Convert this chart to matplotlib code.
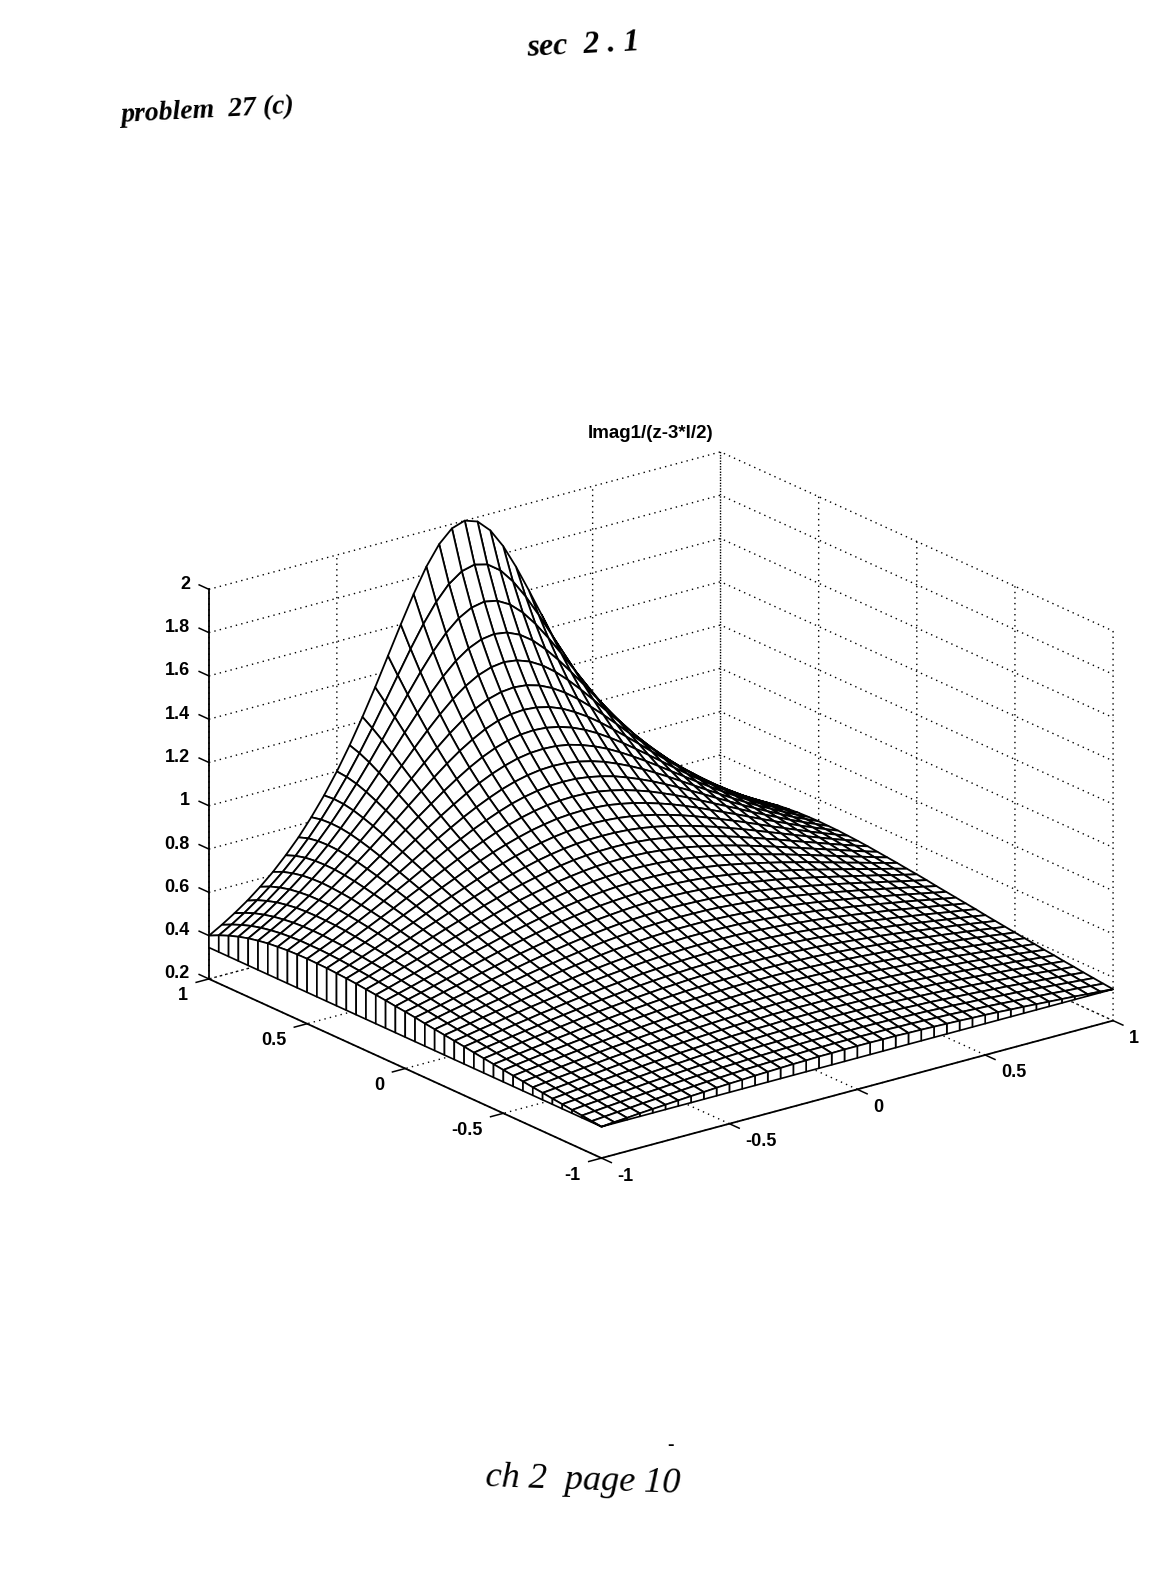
import numpy as np
import matplotlib
matplotlib.use('Agg')
import matplotlib.pyplot as plt
from matplotlib.transforms import offset_copy
from mpl_toolkits.mplot3d import proj3d

plt.rcParams['font.family'] = ['Liberation Sans', 'DejaVu Sans']
plt.rcParams['font.weight'] = 'bold'

W, H = 1171, 1582

# grid of the mesh, surface is symmetric in x so only x >= 0 is listed
x_half = [0, .05, .1, .15, .2, .25, .3, .35, .4, .45, .5, .55, .6, .65, .7, .75, .8, .85, .9, .95, 1]
y_vals = [-1, -.95, -.9, -.85, -.8, -.75, -.7, -.65, -.6, -.55, -.5, -.45, -.4, -.35, -.3, -.25, -.2, -.15, -.1, -.05,
          0, .05, .1, .15, .2, .25, .3, .35, .4, .45, .5, .55, .6, .65, .7, .75, .8, .85, .9, .95, 1]
# one row per y value, one column per x_half value
z_half = [
    [.400,.400,.399,.399,.397,.396,.394,.392,.390,.387,.385,.382,.378,.375,.371,.367,.363,.359,.354,.350,.345],
    [.408,.408,.407,.407,.405,.404,.402,.400,.398,.395,.392,.389,.385,.381,.377,.373,.369,.364,.360,.355,.350],
    [.417,.416,.416,.415,.414,.412,.410,.408,.405,.403,.399,.396,.392,.388,.384,.380,.375,.370,.365,.360,.355],
    [.426,.425,.425,.424,.422,.421,.419,.416,.414,.410,.407,.403,.399,.395,.391,.386,.381,.376,.371,.366,.360],
    [.435,.435,.434,.433,.432,.430,.428,.425,.422,.419,.415,.411,.407,.403,.398,.393,.388,.383,.377,.371,.366],
    [.444,.444,.444,.442,.441,.439,.437,.434,.431,.427,.424,.419,.415,.410,.405,.400,.395,.389,.383,.377,.371],
    [.455,.454,.454,.452,.451,.449,.446,.443,.440,.436,.432,.428,.423,.418,.413,.407,.401,.396,.389,.383,.377],
    [.465,.465,.464,.463,.461,.459,.456,.453,.450,.446,.441,.437,.432,.426,.421,.415,.409,.402,.396,.389,.382],
    [.476,.476,.475,.474,.472,.470,.467,.463,.460,.455,.451,.446,.440,.435,.429,.422,.416,.409,.402,.395,.388],
    [.488,.488,.487,.485,.483,.481,.478,.474,.470,.465,.460,.455,.449,.443,.437,.430,.423,.416,.409,.402,.394],
    [.500,.500,.499,.497,.495,.492,.489,.485,.481,.476,.471,.465,.459,.452,.445,.438,.431,.424,.416,.408,.400],
    [.513,.512,.511,.510,.507,.505,.501,.497,.492,.487,.481,.475,.468,.462,.454,.447,.439,.431,.423,.414,.406],
    [.526,.526,.525,.523,.521,.517,.514,.509,.504,.498,.492,.486,.479,.471,.463,.455,.447,.439,.430,.421,.412],
    [.541,.540,.539,.537,.534,.531,.527,.522,.516,.510,.504,.497,.489,.481,.473,.464,.455,.446,.437,.428,.418],
    [.556,.555,.554,.552,.549,.545,.541,.535,.529,.523,.516,.508,.500,.491,.483,.473,.464,.454,.444,.435,.425],
    [.571,.571,.570,.567,.564,.560,.555,.549,.543,.536,.528,.520,.511,.502,.493,.483,.473,.462,.452,.441,.431],
    [.588,.588,.586,.584,.580,.576,.570,.564,.557,.550,.541,.532,.523,.513,.503,.492,.482,.471,.459,.448,.437],
    [.606,.606,.604,.601,.597,.592,.587,.580,.572,.564,.555,.545,.535,.525,.514,.502,.491,.479,.467,.455,.443],
    [.625,.624,.623,.620,.615,.610,.604,.596,.588,.579,.569,.559,.548,.536,.525,.512,.500,.487,.475,.462,.449],
    [.645,.644,.642,.639,.635,.629,.622,.614,.605,.595,.584,.573,.561,.549,.536,.523,.509,.496,.482,.469,.456],
    [.667,.666,.664,.660,.655,.649,.641,.632,.622,.612,.600,.588,.575,.561,.547,.533,.519,.505,.490,.476,.462],
    [.690,.689,.686,.682,.677,.670,.661,.652,.641,.629,.616,.603,.589,.574,.559,.544,.529,.513,.498,.483,.467],
    [.714,.713,.711,.706,.700,.692,.683,.672,.660,.647,.633,.619,.603,.588,.571,.555,.538,.522,.505,.489,.473],
    [.741,.740,.737,.732,.725,.716,.706,.694,.681,.667,.651,.635,.619,.601,.584,.566,.548,.530,.513,.495,.478],
    [.769,.768,.765,.759,.751,.742,.730,.717,.703,.687,.670,.652,.634,.615,.596,.577,.558,.539,.520,.501,.483],
    [.800,.799,.795,.789,.780,.769,.756,.742,.726,.708,.690,.670,.650,.630,.609,.588,.568,.547,.527,.507,.488],
    [.833,.832,.828,.821,.811,.799,.784,.768,.750,.731,.710,.689,.667,.644,.622,.599,.577,.555,.533,.512,.492],
    [.870,.868,.863,.855,.844,.830,.814,.796,.776,.754,.731,.708,.684,.659,.634,.610,.586,.562,.539,.517,.495],
    [.909,.907,.902,.892,.880,.864,.846,.826,.803,.779,.753,.727,.701,.674,.647,.621,.595,.569,.545,.521,.498],
    [.952,.950,.944,.933,.919,.901,.881,.857,.832,.805,.776,.747,.718,.689,.659,.631,.603,.575,.549,.524,.499],
    [1.000,.998,.990,.978,.962,.941,.917,.891,.862,.832,.800,.768,.735,.703,.671,.640,.610,.581,.552,.526,.500],
    [1.053,1.050,1.041,1.027,1.008,.984,.957,.927,.894,.860,.824,.788,.752,.717,.682,.648,.616,.585,.555,.526,.499],
    [1.111,1.108,1.098,1.081,1.059,1.032,1.000,.965,.928,.889,.849,.809,.769,.730,.692,.656,.621,.587,.556,.526,.497],
    [1.176,1.172,1.160,1.141,1.115,1.083,1.046,1.006,.963,.919,.874,.829,.785,.742,.701,.661,.624,.588,.555,.523,.493],
    [1.250,1.245,1.231,1.208,1.176,1.139,1.096,1.049,1.000,.950,.899,.849,.800,.753,.708,.665,.625,.587,.552,.519,.488],
    [1.333,1.327,1.310,1.282,1.245,1.200,1.149,1.095,1.038,.980,.923,.867,.813,.761,.713,.667,.624,.584,.546,.512,.480],
    [1.429,1.421,1.400,1.366,1.321,1.267,1.207,1.143,1.077,1.011,.946,.883,.824,.767,.714,.665,.619,.577,.538,.503,.470],
    [1.538,1.529,1.503,1.461,1.405,1.340,1.268,1.193,1.116,1.040,.967,.897,.831,.769,.712,.660,.612,.568,.527,.491,.457],
    [1.667,1.655,1.622,1.569,1.500,1.420,1.333,1.244,1.154,1.067,.984,.906,.833,.767,.706,.650,.600,.554,.513,.475,.441],
    [1.818,1.803,1.760,1.692,1.606,1.507,1.401,1.294,1.189,1.089,.995,.909,.830,.759,.694,.636,.584,.537,.494,.456,.422],
    [2.000,1.980,1.923,1.835,1.724,1.600,1.471,1.342,1.220,1.105,1.000,.905,.820,.743,.676,.615,.562,.514,.472,.434,.400],
]
z_floor = .345

xy_ticks = [-1, -.5, 0, .5, 1]
xy_labels = ['-1', '-0.5', '0', '0.5', '1']
z_ticks = [.2, .4, .6, .8, 1, 1.2, 1.4, 1.6, 1.8, 2]
z_labels = ['0.2', '0.4', '0.6', '0.8', '1', '1.2', '1.4', '1.6', '1.8', '2']

title = 'Imag1/(z-3*I/2)'

xh = np.array(x_half)
x = np.concatenate([-xh[:0:-1], xh])
y = np.array(y_vals)
zh = np.array(z_half)
Z = np.hstack([zh[:, :0:-1], zh])
X, Y = np.meshgrid(x, y)

fig = plt.figure(figsize=(W / 100, H / 100), dpi=100, facecolor='white')
side = 1000
ax = fig.add_axes([147.5 / W, 263.5 / H, side / W, side / H], projection='3d', proj_type='ortho', computed_zorder=False)
ax.view_init(elev=20.5, azim=-127.5)
ax.set_box_aspect((1, 1, .645), zoom=.973)
ax.set_xlim(-1, 1, view_margin=0)
ax.set_ylim(-1, 1, view_margin=0)
ax.set_zlim(.2, 2, view_margin=0)
ax.patch.set_alpha(0)

for axis in (ax.xaxis, ax.yaxis, ax.zaxis):
    axis.set_pane_color((1, 1, 1, 1))
    axis.pane.set_edgecolor('none')
    axis.line.set_color('k')
    axis.line.set_linewidth(1.3)
    axis._axinfo['grid'].update(color='k', linestyle=(0, (1, 3)), linewidth=1.0)
    axis._axinfo['tick'].update(inward_factor=0, outward_factor=0, linewidth={True: 0, False: 0})

ax.set_xticks(xy_ticks, [''] * len(xy_ticks))
ax.set_yticks(xy_ticks, [''] * len(xy_ticks))
ax.set_zticks(z_ticks, [''] * len(z_ticks))


def label3d(xp, yp, zp, s, trans, ha):
    # project to the 2d plane of the axes, then shift by some pixels
    x2, y2, _ = proj3d.proj_transform(xp, yp, zp, ax.get_proj())
    ax.text2D(x2, y2, s, transform=trans, ha=ha, va='center', fontsize=13)


# tick marks and labels the way matlab puts them
tick_len = .05
xoff = offset_copy(ax.transData, x=16, y=-18, units='dots')
yoff = offset_copy(ax.transData, x=-21, y=-17, units='dots')
zoff = offset_copy(ax.transData, x=-19, y=5, units='dots')
for t, s in zip(xy_ticks, xy_labels):
    ax.plot([t, t], [-1, -1 - tick_len], [.2, .2], color='k', lw=1.1, zorder=1)
    ax.plot([-1, -1 - tick_len], [t, t], [.2, .2], color='k', lw=1.1, zorder=1)
    label3d(t, -1, .2, s, xoff, 'left')
    label3d(-1, t, .2, s, yoff, 'right')
for t, s in zip(z_ticks, z_labels):
    ax.plot([-1, -1], [1, 1 + tick_len], [t, t], color='k', lw=1.1, zorder=1)
    label3d(-1, 1, t, s, zoff, 'right')

ax.plot_surface(X, Y, Z, rstride=1, cstride=1, color='white', edgecolor='k', linewidth=1.3, shade=False, zorder=2)

# curtain along the two front edges
ax.plot_surface(np.array([x, x]), np.array([y[0] * np.ones_like(x)] * 2), np.array([Z[0, :], z_floor * np.ones_like(x)]),
                rstride=1, cstride=1, color='white', edgecolor='k', linewidth=1.2, shade=False, zorder=3)
ax.plot_surface(np.array([x[0] * np.ones_like(y)] * 2), np.array([y, y]), np.array([Z[:, 0], z_floor * np.ones_like(y)]),
                rstride=1, cstride=1, color='white', edgecolor='k', linewidth=1.2, shade=False, zorder=3)

fig.text(651 / W, 1 - 434 / H, title, ha='center', va='center', fontsize=13.5, fontweight='bold')

# handwritten notes on the page
hand = dict(family=['Liberation Serif', 'DejaVu Serif'], style='italic', color='k')
fig.text(583 / W, 1 - 46 / H, 'sec  2 . 1', ha='center', va='center', fontsize=23, rotation=3, fontweight='bold', **hand)
fig.text(208 / W, 1 - 111 / H, 'problem  27 (c)', ha='center', va='center', fontsize=20, rotation=3, fontweight='bold', **hand)
fig.text(583 / W, 1 - 1481 / H, 'ch 2  page 10', ha='center', va='center', fontsize=26, rotation=-2, fontweight='normal', **hand)
fig.text(670 / W, 1 - 1446 / H, '-', ha='center', va='center', fontsize=14, fontweight='bold', color='k')

fig.savefig('out.png', dpi=100, facecolor='white')
